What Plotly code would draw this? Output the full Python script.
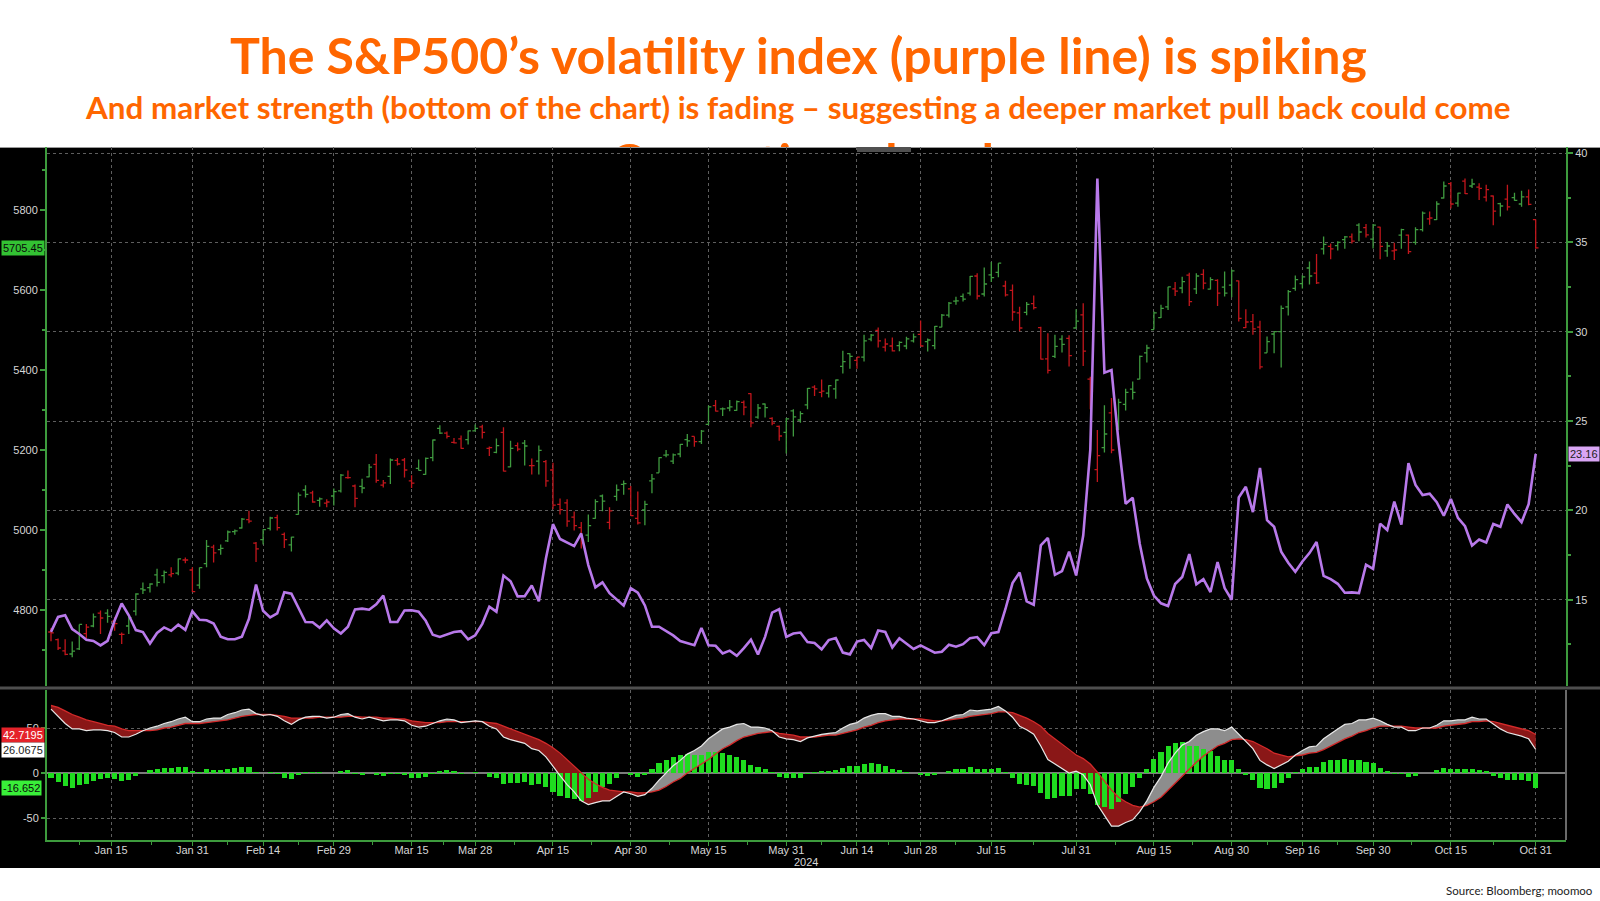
import numpy as np
import pandas as pd
import plotly.graph_objects as go

# ---------------- data ----------------
HOLIDAYS = ["2024-01-01", "2024-01-15", "2024-02-19", "2024-03-29", "2024-05-27",
            "2024-06-19", "2024-07-04", "2024-09-02"]

spx_open = [4745,4726,4698,4690,4703,4741,4760,4792,4792,4772,4739,4760,4797,4853,4856,4888,4886,4888,4892,4925,4900,
            4862,4916,4957,4951,4973,4996,5005,5026,4967,4976,5004,5031,4989,4963,5039,5100,5093,5074,5067,5085,
            5098,5131,5110,5109,5133,5164,5112,5134,5174,5175,5123,5154,5139,5181,5254,5242,5219,5228,5226,5248,
            5258,5204,5194,5244,5158,5211,5217,5161,5172,5171,5150,5064,5068,5032,5006,4987,5029,5085,5019,5084,5114,5103,
            5029,5050,5123,5143,5187,5172,5190,5226,5234,5221,5264,5311,5303,5305,5299,5319,5341,5282,5315,5279,5259,5244,
            5298,5275,5313,5357,5344,5342,5353,5409,5441,5424,5432,5477,5499,5457,5460,5461,5460,5473,5489,
            5471,5461,5507,5537,5572,5584,5592,5635,5590,5638,5644,5610,5599,5543,5544,5566,5506,5428,5434,5477,5479,5505,
            5538,5377,5151,5206,5293,5252,5314,5352,5377,5443,5501,5531,5558,5603,5605,5637,5603,5639,5602,5624,5607,5612,
            5623,5506,5521,5507,5443,5490,5496,5558,5604,5616,5655,5642,5703,5709,5711,5726,5733,5762,5756,5727,
            5757,5698,5698,5737,5737,5719,5751,5778,5776,5830,5866,5817,5872,5860,5857,5832,5835,5816,5827,5831,5815,5833,5776]
spx_high = [4755,4729,4727,4721,4764,4765,4791,4799,4802,4782,4744,4785,4842,4869,4867,4903,4899,4907,4929,4931,4907,
            4906,4975,4963,4964,4999,5001,5030,5048,4970,5002,5033,5038,4994,4983,5094,5112,5098,5081,5077,5104,
            5140,5149,5114,5128,5165,5190,5125,5179,5180,5180,5137,5176,5181,5226,5262,5246,5230,5236,5249,5264,
            5263,5209,5229,5257,5223,5219,5225,5179,5211,5175,5168,5079,5077,5046,5020,5039,5077,5089,5057,5114,5124,5110,
            5096,5073,5140,5182,5200,5191,5215,5240,5234,5250,5311,5325,5306,5325,5324,5324,5342,5315,5316,5282,5261,5280,
            5302,5297,5355,5362,5376,5362,5376,5448,5442,5432,5488,5490,5506,5479,5481,5472,5483,5491,5524,
            5479,5510,5540,5570,5583,5591,5635,5642,5656,5670,5667,5623,5614,5558,5570,5586,5508,5492,5488,5487,5487,5552,
            5567,5383,5250,5312,5330,5328,5353,5371,5436,5463,5546,5563,5608,5620,5633,5643,5642,5652,5632,5627,5646,5651,
            5624,5552,5540,5523,5484,5497,5561,5600,5636,5637,5671,5690,5734,5716,5722,5735,5741,5767,5765,5765,
            5758,5720,5718,5753,5739,5757,5796,5796,5822,5871,5870,5843,5879,5878,5867,5863,5836,5818,5863,5843,5848,5851,5776]
spx_low = [4722,4700,4687,4682,4700,4730,4757,4740,4768,4748,4715,4740,4786,4840,4844,4859,4867,4882,4887,4917,4845,
           4853,4907,4919,4938,4970,4988,5004,5017,4920,4964,4999,4999,4955,4946,5038,5081,5068,5058,5057,5061,
           5094,5128,5057,5092,5132,5118,5106,5115,5161,5131,5105,5149,5138,5172,5240,5229,5216,5203,5214,5246,
           5229,5185,5192,5146,5157,5197,5161,5139,5139,5108,5052,5039,5008,4999,4954,4970,5028,5047,5002,5073,5088,5035,
           5014,5012,5092,5143,5182,5165,5182,5208,5208,5215,5263,5296,5285,5297,5298,5287,5257,5278,5281,5262,5223,5191,
           5234,5268,5302,5335,5332,5331,5328,5391,5403,5403,5421,5472,5456,5446,5446,5447,5452,5469,5460,
           5446,5452,5507,5531,5563,5571,5586,5576,5584,5620,5632,5584,5523,5497,5537,5551,5426,5391,5430,5444,5409,5504,
           5410,5302,5120,5194,5192,5250,5299,5326,5377,5419,5501,5530,5550,5585,5592,5560,5590,5602,5601,5560,5584,5582,
           5521,5505,5488,5402,5443,5442,5406,5536,5598,5604,5614,5615,5689,5677,5699,5703,5716,5722,5731,5704,
           5677,5683,5675,5703,5690,5713,5746,5763,5775,5829,5804,5808,5840,5855,5825,5821,5762,5784,5799,5823,5808,5812,5703]
spx_close = [4743,4705,4689,4697,4764,4757,4783,4780,4784,4766,4739,4781,4840,4850,4865,4869,4894,4891,4928,4925,4846,
             4906,4959,4943,4954,4995,4998,5027,5022,4953,5001,5030,5006,4976,4982,5087,5089,5070,5078,5070,5096,
             5137,5131,5079,5105,5157,5124,5118,5175,5165,5150,5117,5149,5179,5225,5242,5234,5218,5204,5248,5254,
             5244,5206,5211,5147,5204,5202,5210,5161,5199,5123,5062,5051,5022,5011,4967,5011,5071,5072,5048,5100,5116,5036,
             5018,5064,5128,5181,5188,5188,5214,5223,5221,5247,5308,5297,5303,5308,5321,5307,5268,5305,5306,5267,5235,5278,
             5283,5291,5354,5353,5347,5361,5375,5421,5434,5432,5473,5487,5473,5465,5448,5469,5478,5483,5460,
             5475,5509,5537,5567,5573,5577,5634,5585,5615,5631,5667,5588,5545,5505,5564,5556,5427,5399,5459,5464,5436,5522,
             5447,5347,5186,5240,5200,5319,5344,5344,5434,5455,5543,5554,5608,5597,5621,5571,5635,5617,5626,5592,5592,5648,
             5529,5520,5503,5408,5471,5496,5554,5596,5626,5633,5635,5618,5714,5703,5719,5733,5722,5745,5738,5762,
             5709,5710,5700,5751,5696,5751,5792,5780,5815,5860,5815,5842,5841,5865,5854,5851,5797,5810,5808,5824,5833,5814,5705.45]
prev_close_2023 = 4769.83

vix_close = [13.20,14.04,14.13,13.35,13.08,12.76,12.69,12.44,12.70,13.84,14.79,14.13,13.30,13.19,12.55,13.14,13.45,13.26,13.60,13.31,14.35,
             13.88,13.85,13.67,12.93,12.79,12.79,12.93,13.93,15.85,14.38,14.01,14.24,15.42,15.34,14.54,13.75,13.74,13.43,13.84,13.40,
             13.11,13.49,14.46,14.50,14.44,14.74,15.23,13.75,13.75,14.40,14.41,14.33,13.82,13.04,12.92,13.06,13.19,13.24,12.78,13.01,
             13.65,14.61,14.33,16.35,16.03,15.19,15.20,15.80,14.91,17.31,19.23,18.40,18.21,18.00,18.71,16.94,15.69,15.97,15.37,15.03,14.67,15.65,
             15.39,14.68,13.49,13.49,13.23,13.00,12.69,12.55,12.45,13.42,12.45,12.42,11.99,12.15,11.86,12.29,12.77,11.93,12.92,14.28,14.47,12.92,
             13.11,13.16,12.63,12.58,12.22,12.74,12.85,12.04,11.94,12.66,12.75,12.30,13.28,13.20,12.33,12.84,12.55,12.24,12.44,
             12.22,12.03,12.09,12.48,12.37,12.51,12.85,12.91,12.46,13.12,13.19,14.48,15.93,16.52,14.91,14.72,18.04,18.46,16.39,16.60,17.69,16.36,
             18.59,23.39,38.57,27.71,27.85,23.79,20.37,20.71,18.12,16.19,15.23,14.80,14.65,15.88,16.27,17.55,15.86,16.15,15.43,17.11,15.65,15.00,
             20.72,21.32,19.90,22.38,19.45,19.08,17.69,17.07,16.56,17.14,17.61,18.23,16.33,16.15,15.89,15.39,15.41,15.37,16.96,16.73,
             19.26,18.90,20.49,19.21,22.64,21.42,20.86,20.93,20.46,19.70,20.64,19.58,19.11,18.03,18.37,18.20,19.24,19.08,20.33,19.80,19.34,20.35,23.16]

macd_line = [71,63,55,49,49,47,48,48,47,45,40,40,43,47,50,52,55,57,60,62,57,57,60,61,61,65,67,70,71,66,
             64,65,63,58,54,59,62,63,63,61,62,65,66,62,60,62,60,58,59,59,58,53,51,52,55,58,60,59,56,57,
             58,57,52,49,40,37,35,33,27,25,18,7,-3,-13,-21,-31,-35,-33,-31,-31,-26,-21,-23,-26,-24,
             -17,-8,0,8,14,21,25,30,38,44,49,51,54,55,51,51,50,47,40,38,
             37,35,39,41,43,44,45,50,54,56,61,64,66,66,63,63,61,60,58,56,
             56,58,61,64,65,70,69,70,71,74,69,62,52,48,43,30,15,10,5,0,
             2,-2,-13,-35,-47,-59,-59,-55,-52,-43,-31,-16,-4,11,22,31,35,42,46,49,
             49,47,51,43,35,27,14,9,5,9,13,20,25,29,30,38,44,49,54,55,
             59,59,61,58,54,51,51,47,47,50,50,53,58,58,59,59,62,60,60,54,
             49,45,43,41,38,26.0675]
signal_line = [75,73,69,65,62,59,57,55,53,52,49,47,47,47,47,48,50,51,53,55,55,55,56,57,58,59,61,63,64,65,
               65,65,64,63,61,61,61,61,62,62,62,62,63,63,62,62,62,61,61,60,60,58,57,56,56,56,57,57,57,57,
               57,57,56,55,52,49,46,43,40,37,33,28,22,15,8,0,-7,-12,-16,-19,-20,-21,-21,-22,-22,-21,-19,-15,-10,-6,
               0,5,10,15,21,27,31,36,40,42,44,45,46,44,43,
               42,40,40,40,41,42,42,44,46,48,51,53,56,58,59,60,60,60,60,59,58,58,59,60,61,63,64,65,66,68,
               68,67,64,61,57,52,44,38,31,25,20,16,10,1,-9,-19,-27,-32,-36,-38,-36,-32,-27,-19,-11,-3,5,12,19,25,
               30,33,37,38,37,35,31,27,22,20,18,19,20,22,23,26,30,34,38,41,45,47,50,52,52,52,52,51,50,50,
               50,50,52,53,54,55,57,57,58,57,55,53,51,49,47,42.7195]
macd_hist = [-5,-10,-14,-17,-13,-12,-9,-7,-6,-7,-9,-8,-3,0,3,4,6,6,7,7,2,1,4,3,3,5,6,7,7,1,
             0,1,-1,-5,-7,-2,1,1,1,0,0,2,3,-1,-2,0,-2,-3,-1,-1,-2,-6,-6,-4,-1,2,3,2,-1,0,
             1,0,-4,-6,-12,-11,-11,-10,-13,-12,-16,-21,-25,-28,-29,-31,-28,-21,-15,-12,-6,0,-2,-4,-2,4,11,15,18,20,
             21,20,20,23,23,22,20,18,15,9,7,5,1,-4,-5,-5,-5,-1,1,2,2,3,6,8,8,10,11,10,8,4,
             3,1,0,-2,-3,-2,0,2,4,4,7,5,5,5,6,1,-5,-12,-13,-14,-22,-29,-28,-26,-25,-18,-18,-23,-36,-38,
             -40,-32,-23,-16,-5,5,16,23,30,33,34,30,30,27,24,19,14,14,5,-2,-8,-17,-18,-17,-11,-5,1,5,7,7,
             12,14,15,16,14,14,12,11,6,2,-1,-1,-4,-3,0,0,3,6,5,5,4,5,3,2,-3,-6,-8,-8,-8,-9,-16.652]

tick_dates = ["2024-01-15", "2024-01-31", "2024-02-14", "2024-02-29", "2024-03-15", "2024-03-28", "2024-04-15",
              "2024-04-30", "2024-05-15", "2024-05-31", "2024-06-14", "2024-06-28", "2024-07-15", "2024-07-31",
              "2024-08-15", "2024-08-30", "2024-09-16", "2024-09-30", "2024-10-15", "2024-10-31"]
tick_labels = ["Jan 15", "Jan 31", "Feb 14", "Feb 29", "Mar 15", "Mar 28", "Apr 15", "Apr 30", "May 15", "May 31",
               "Jun 14", "Jun 28", "Jul 15", "Jul 31", "Aug 15", "Aug 30", "Sep 16", "Sep 30", "Oct 15", "Oct 31"]
spx_ticks = [4800, 5000, 5200, 5400, 5600, 5800]
vix_ticks = [15, 20, 25, 30, 35, 40]
macd_ticks = [-50, 0, 50]

title_text = "The S&P500’s volatility index (purple line) is spiking"
subtitle_text = "And market strength (bottom of the chart) is fading – suggesting a deeper market pull back could come"
hidden_text = "Correction ahead"
source_text = "Source: Bloomberg; moomoo"
year_text = "2024"

# ---------------- geometry / style ----------------
days = [d for d in pd.bdate_range("2024-01-02", "2024-10-31") if d.strftime("%Y-%m-%d") not in HOLIDAYS]
n = len(days)
day_str = [d.strftime("%Y-%m-%d") for d in days]
xs = list(range(n))


def tick_pos(ds):
    if ds in day_str:
        return day_str.index(ds)
    nxt = next(i for i, d in enumerate(day_str) if d > ds)
    return nxt - 0.5


tickpos = [tick_pos(d) for d in tick_dates]
minor_pos = [(tickpos[i] + tickpos[i + 1]) / 2 for i in range(len(tickpos) - 1)] + [tickpos[0] - 4.5]

W, H = 1600, 901
ML, MR, MT, MB = 47, 34, 10, 61
PW, PH = W - ML - MR, H - MT - MB


def px_x(p):
    return (p - ML) / PW


def px_y(p):
    return (H - MB - p) / PH


X0, DX = 51.0, 7.07
xr = [(ML - X0) / DX, (W - MR - X0) / DX]

GREEN_AX = "#3d9b3d"
LBL = "#d6d6d6"
GRID = "#5e5e5e"
ORANGE = "#FF6600"
AXFONT = "Liberation Sans, Arial, sans-serif"
TFONT = "Lato, Open Sans, sans-serif"
UP, DN = "#3f9a3f", "#c2161c"

fig = go.Figure()

prev = [prev_close_2023] + spx_close[:-1]
up = [i for i in range(n) if spx_close[i] >= prev[i]]
dn = [i for i in range(n) if spx_close[i] < prev[i]]
for idx, col in ((up, UP), (dn, DN)):
    fig.add_trace(go.Ohlc(x=[xs[i] for i in idx], open=[spx_open[i] for i in idx], high=[spx_high[i] for i in idx],
                          low=[spx_low[i] for i in idx], close=[spx_close[i] for i in idx],
                          increasing=dict(line=dict(color=col, width=1.3)),
                          decreasing=dict(line=dict(color=col, width=1.3)),
                          tickwidth=0.4, xaxis="x", yaxis="y", hoverinfo="skip", showlegend=False))

fig.add_trace(go.Scatter(x=xs, y=vix_close, mode="lines", line=dict(color="#b879ea", width=2.6),
                         xaxis="x", yaxis="y2", hoverinfo="skip", showlegend=False))


def regions(xv, a, b, sign):
    ox, oy, top, bot = [], [], [], []

    def flush():
        if len(top) >= 2:
            ox.extend([p for p, _ in top] + [p for p, _ in reversed(bot)] + [None])
            oy.extend([q for _, q in top] + [q for _, q in reversed(bot)] + [None])

    for i in range(len(xv)):
        d = sign * (a[i] - b[i])
        if i > 0:
            dp = sign * (a[i - 1] - b[i - 1])
            if (dp > 0) != (d > 0) and dp != d:
                t = dp / (dp - d)
                xc = xv[i - 1] + t * (xv[i] - xv[i - 1])
                yc = a[i - 1] + t * (a[i] - a[i - 1])
                top.append((xc, yc))
                bot.append((xc, yc))
                if dp > 0:
                    flush()
                    top.clear()
                    bot.clear()
        if d > 0:
            top.append((xv[i], a[i]))
            bot.append((xv[i], b[i]))
    flush()
    return ox, oy


gx, gy = regions(xs, macd_line, signal_line, 1)
rx, ry = regions(xs, macd_line, signal_line, -1)
fig.add_trace(go.Scatter(x=gx, y=gy, mode="lines", fill="toself", fillcolor="#8d8d8d", line=dict(width=0),
                         xaxis="x2", yaxis="y3", hoverinfo="skip", showlegend=False))
fig.add_trace(go.Scatter(x=rx, y=ry, mode="lines", fill="toself", fillcolor="#8a1717", line=dict(width=0),
                         xaxis="x2", yaxis="y3", hoverinfo="skip", showlegend=False))
fig.add_trace(go.Bar(x=xs, y=macd_hist, width=0.72, marker=dict(color="#1fdc1f", line=dict(width=0)),
                     xaxis="x2", yaxis="y5", hoverinfo="skip", showlegend=False))
fig.add_trace(go.Scatter(x=xs, y=signal_line, mode="lines", line=dict(color="#d42a2a", width=1.3),
                         xaxis="x2", yaxis="y5", hoverinfo="skip", showlegend=False))
fig.add_trace(go.Scatter(x=xs, y=macd_line, mode="lines", line=dict(color="#e8e8e8", width=1.2),
                         xaxis="x2", yaxis="y5", hoverinfo="skip", showlegend=False))

# third title line, mostly hidden behind the chart (clipped at the chart's top edge)
fig.add_trace(go.Scatter(x=[px_x(802)], y=[(147 - 167) / 29], mode="text", text=["<b>" + hidden_text + "</b>"],
                         textfont=dict(size=50, color=ORANGE, family=TFONT), textposition="middle center",
                         cliponaxis=True, xaxis="x3", yaxis="y4", hoverinfo="skip", showlegend=False))

tf = dict(size=11, color=LBL, family=AXFONT)
lower_rng = [-(840 - 773) / 0.9, (773 - 690) / 0.9]
fig.update_layout(
    width=W, height=H, margin=dict(l=ML, r=MR, t=MT, b=MB),
    paper_bgcolor="white", plot_bgcolor="rgba(0,0,0,0)", showlegend=False, bargap=0,
    xaxis=dict(domain=[0, 1], anchor="y", range=xr, tickvals=tickpos, showticklabels=False, ticks="",
               showgrid=True, gridcolor=GRID, griddash="dot", gridwidth=1, zeroline=False, showline=False,
               rangeslider=dict(visible=False)),
    xaxis2=dict(domain=[0, 1], anchor="y3", matches="x", range=xr, tickvals=tickpos, ticktext=tick_labels,
                ticks="outside", ticklen=4, tickcolor=GREEN_AX, showline=True, linecolor=GREEN_AX, linewidth=2,
                showgrid=True, gridcolor=GRID, griddash="dot", gridwidth=1, zeroline=False, tickfont=tf,
                ticklabelstandoff=-5,
                minor=dict(tickvals=minor_pos, ticks="outside", ticklen=3, tickcolor=GREEN_AX, showgrid=False),
                rangeslider=dict(visible=False)),
    xaxis3=dict(domain=[0, 1], anchor="y4", range=[0, 1], visible=False),
    yaxis=dict(domain=[px_y(686), px_y(147)], anchor="x", range=[4610, 5957.5],
               tickvals=spx_ticks, ticks="outside", ticklen=5, tickwidth=2,
               tickcolor=GREEN_AX, showline=True, linecolor=GREEN_AX, linewidth=2, showgrid=False,
               zeroline=False, tickfont=tf,
               minor=dict(tickvals=[4700, 4900, 5100, 5300, 5500, 5700, 5900], ticks="outside", ticklen=3,
                          tickcolor=GREEN_AX, showgrid=False)),
    yaxis2=dict(overlaying="y", side="right", anchor="x", range=[10.17, 40.34],
                tickvals=vix_ticks, ticks="outside", ticklen=5, tickwidth=2, tickcolor=GREEN_AX,
                showline=True, linecolor=GREEN_AX, linewidth=2, showgrid=True, gridcolor=GRID, griddash="dot",
                gridwidth=1, zeroline=False, tickfont=tf,
                minor=dict(tickvals=[12.5, 17.5, 22.5, 27.5, 32.5, 37.5], ticks="outside", ticklen=3,
                           tickcolor=GREEN_AX, showgrid=False)),
    yaxis3=dict(domain=[0, px_y(690)], anchor="x2", range=lower_rng, tickvals=macd_ticks,
                ticktext=[str(v) for v in macd_ticks], ticks="outside", ticklen=4, tickwidth=2,
                tickcolor=GREEN_AX, showline=True, linecolor=GREEN_AX, linewidth=2, showgrid=True,
                gridcolor=GRID, griddash="dot", gridwidth=1, zeroline=True, zerolinecolor="#7c7c7c",
                zerolinewidth=1.5, tickfont=tf),
    yaxis4=dict(domain=[px_y(147), px_y(118)], anchor="x3", range=[0, 1], visible=False),
    yaxis5=dict(overlaying="y3", anchor="x2", range=lower_rng, visible=False),
)

shapes = [
    dict(type="rect", xref="paper", yref="paper", x0=px_x(0), x1=px_x(W), y0=px_y(868), y1=px_y(147),
         fillcolor="black", line=dict(width=0), layer="below"),
    dict(type="line", xref="paper", yref="paper", x0=px_x(0), x1=px_x(W), y0=px_y(147.5), y1=px_y(147.5),
         line=dict(color="#9a9a9a", width=1), layer="below"),
    dict(type="rect", xref="paper", yref="paper", x0=px_x(0), x1=px_x(W), y0=px_y(689.5), y1=px_y(686.5),
         fillcolor="#4e4e4e", line=dict(width=0), layer="above"),
    dict(type="rect", xref="paper", yref="paper", x0=px_x(857), x1=px_x(911), y0=px_y(152), y1=px_y(147),
         fillcolor="#505050", line=dict(width=0), layer="above"),
    dict(type="line", xref="paper", yref="paper", x0=px_x(1566), x1=px_x(1566), y0=px_y(840), y1=px_y(690),
         line=dict(color="#6a6a6a", width=2), layer="above"),
]
fig.update_layout(shapes=shapes)


def tag(text, xpx, yval, yref, bg, fg, anchor="left"):
    return dict(text=text, xref="paper", x=px_x(xpx), xanchor=anchor, yref=yref, y=yval, yanchor="middle",
                showarrow=False, bgcolor=bg, font=dict(size=11, color=fg, family=AXFONT), borderpad=1)


ann = [
    dict(text="<b>" + title_text + "</b>", xref="paper", x=px_x(798), xanchor="center", yref="paper",
         y=px_y(55), yanchor="middle", showarrow=False, font=dict(size=50, color=ORANGE, family=TFONT)),
    dict(text="<b>" + subtitle_text + "</b>", xref="paper", x=px_x(797), xanchor="center", yref="paper",
         y=px_y(107), yanchor="middle", showarrow=False, font=dict(size=31.4, color=ORANGE, family=TFONT)),
    dict(text=year_text, xref="paper", x=px_x(806), xanchor="center", yref="paper", y=px_y(862),
         yanchor="middle", showarrow=False, font=tf),
    dict(text=source_text, xref="paper", x=px_x(1595), xanchor="right", yref="paper", y=px_y(890),
         yanchor="middle", showarrow=False, font=dict(size=11.5, color="#222222", family=TFONT)),
    tag(f"{spx_close[-1]:.2f}", 1, spx_close[-1], "y", "#33c233", "#0a0a0a"),
    tag(f"{vix_close[-1]:.2f}", 1568, vix_close[-1], "y2", "#d9a6f5", "#222222"),
    tag(f"{signal_line[-1]:.4f}", 1, signal_line[-1], "y3", "#e5232a", "#ffffff"),
    tag(f"{macd_line[-1]:.4f}", 1, macd_line[-1], "y3", "#ffffff", "#222222"),
    tag(f"{macd_hist[-1]:.3f}", 1, macd_hist[-1], "y3", "#39ef39", "#0a0a0a"),
]
fig.update_layout(annotations=ann)

fig.write_html("out.html", config={"displayModeBar": False},
               post_script="document.body.style.margin='0px';document.body.style.overflow='hidden';")
